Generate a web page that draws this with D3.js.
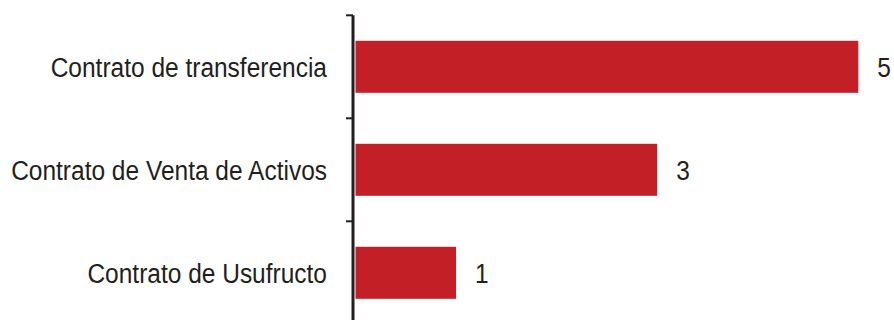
<!DOCTYPE html>
<html><head><meta charset="utf-8">
<script src="https://cdn.jsdelivr.net/npm/d3@7"></script>
<style>body{margin:0;background:#fff}svg{display:block}</style>
</head><body>
<script>
const categories = ["Contrato de transferencia", "Contrato de Venta de Activos", "Contrato de Usufructo"];
const values = [5, 3, 1];

const W = 894, H = 320;
const svg = d3.select("body").append("svg").attr("width", W).attr("height", H);
const x0 = 353;
const x = d3.scaleLinear().domain([0, 5]).range([x0 + 2.5, x0 + 2.5 + 502.8]);
const y = d3.scaleBand().domain(categories).range([15.3, 15.3 + 3 * 103]).paddingInner(0.495).paddingOuter(0.2475);

const font = "'Liberation Sans', Arial, sans-serif";
const fs = 28, sx = 0.875;

svg.selectAll("rect.bar").data(categories).join("rect")
  .attr("x", x(0)).attr("y", d => y(d)).attr("width", (d, i) => x(values[i]) - x(0))
  .attr("height", y.bandwidth()).attr("fill", "#c21f26");

// axis
const band = d3.scaleLinear().domain([0, 3]).range([15.3, 15.3 + 3 * 103]);
svg.append("line").attr("x1", x0).attr("x2", x0).attr("y1", 15.3).attr("y2", H + 5)
  .attr("stroke", "#231f20").attr("stroke-width", 3);
svg.selectAll("line.tick").data([0, 1, 2, 3]).join("line")
  .attr("x1", x0 - 7).attr("x2", x0).attr("y1", d => band(d)).attr("y2", d => band(d))
  .attr("stroke", "#231f20").attr("stroke-width", 2);

svg.selectAll("text.cat").data(categories).join("text")
  .attr("transform", d => `translate(327,${y(d) + y.bandwidth() / 2}) scale(${sx},1)`)
  .attr("dy", "0.36em").attr("text-anchor", "end")
  .attr("font-family", font).attr("font-size", fs).attr("fill", "#231f20").text(d => d);

svg.selectAll("text.val").data(values).join("text")
  .attr("transform", (d, i) => `translate(${x(d) + 19},${y(categories[i]) + y.bandwidth() / 2}) scale(${sx},1)`)
  .attr("dy", "0.36em").attr("font-family", font).attr("font-size", fs).attr("fill", "#231f20").text(d => d);
</script>
</body></html>
